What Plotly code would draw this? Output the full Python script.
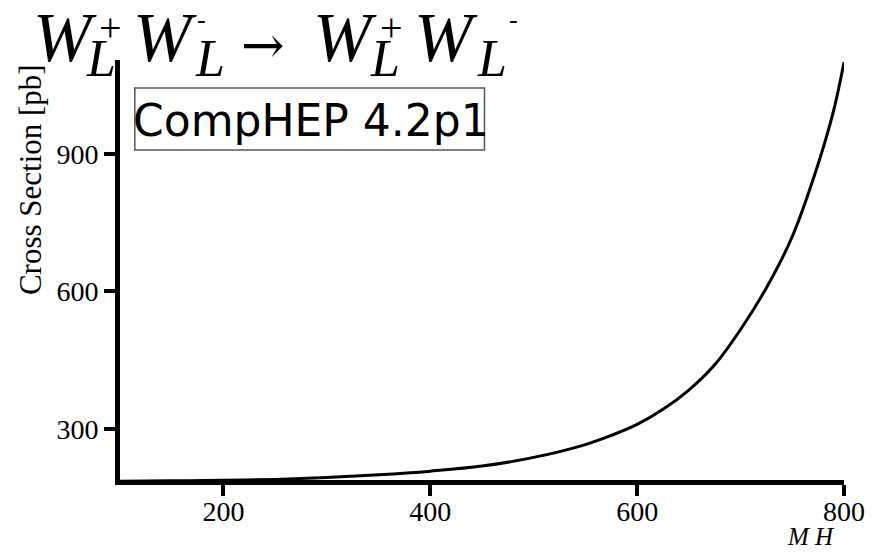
import plotly.graph_objects as go

# Data
mh = [100, 150, 200, 250, 300, 350, 400, 450, 500, 550, 575, 600, 625, 650, 675, 700, 725, 750, 775, 790, 800]
sigma = [186, 187, 188, 190, 194, 200, 208, 219, 238, 266, 286, 310, 343, 385, 440, 517, 608, 720, 878, 995, 1100]

x_ticks = [200, 400, 600, 800]
y_ticks = [300, 600, 900]

W, H = 877, 552
# plot area in pixels
X0, X1, Y0, Y1 = 120, 853, 60, 480
L, R, T, B = X0, W - X1, Y0, H - Y1


def px(x):
    return (x - X0) / (X1 - X0)


def py(y):
    return (Y1 - y) / (Y1 - Y0)


fig = go.Figure()
fig.add_trace(go.Scatter(x=mh, y=sigma, mode="lines", line=dict(color="black", width=3),
                         line_shape="spline", showlegend=False, hoverinfo="skip"))

serif = "Liberation Serif"
axis_common = dict(showgrid=False, zeroline=False, showline=True, linecolor="black", linewidth=5,
                   ticks="outside", ticklen=11, tickwidth=4, tickcolor="black",
                   tickfont=dict(family=serif, size=28, color="black"))

fig.update_xaxes(range=[100, 800], tickvals=x_ticks, ticktext=[str(v) for v in x_ticks],
                 ticklabelstandoff=-9, **axis_common)
fig.update_yaxes(range=[188.7, 1105], tickvals=y_ticks, ticktext=[str(v) for v in y_ticks], **axis_common)

ann = []


def add(text, x, y, size, family=serif, xanchor="center", yanchor="middle", angle=0):
    ann.append(dict(text=text, xref="paper", yref="paper", x=px(x), y=py(y), showarrow=False,
                    xanchor=xanchor, yanchor=yanchor, textangle=angle,
                    font=dict(family=family, size=size, color="black")))


# Title  W_L^+ W_L^- -> W_L^+ W_L^-
for cx in [64, 166, 348, 450]:
    add("<i>W</i>", cx, 38, 70)
for cx in [101, 211, 388, 497]:
    add("<i>L</i>", cx, 58, 52)
for cx in [110, 395]:
    add("+", cx, 27, 40)
for cx in [203, 518]:
    add("-", cx, 20, 26)
add("→", 265, 45, 52, family="DejaVu Serif")

# CompHEP label box
add("CompHEP 4.2p1", 313, 120, 44, family="DejaVu Sans")

# Axis titles
add("Cross Section [pb]", 29, 180, 31, angle=-90)
add("<i>M H</i>", 820, 552, 25, yanchor="bottom")

fig.update_layout(
    width=W, height=H,
    margin=dict(l=L, r=R, t=T, b=B),
    paper_bgcolor="white", plot_bgcolor="white",
    annotations=ann,
    shapes=[dict(type="rect", xref="paper", yref="paper", x0=px(135), x1=px(489), y0=py(150), y1=py(88),
                 line=dict(color="#555555", width=1.5))],
)

# remove the browser's default 8px body margin so the figure fills the window exactly
fig.write_html("out.html", config={"displayModeBar": False},
               post_script="document.body.style.margin='0';document.body.style.overflow='hidden';")
